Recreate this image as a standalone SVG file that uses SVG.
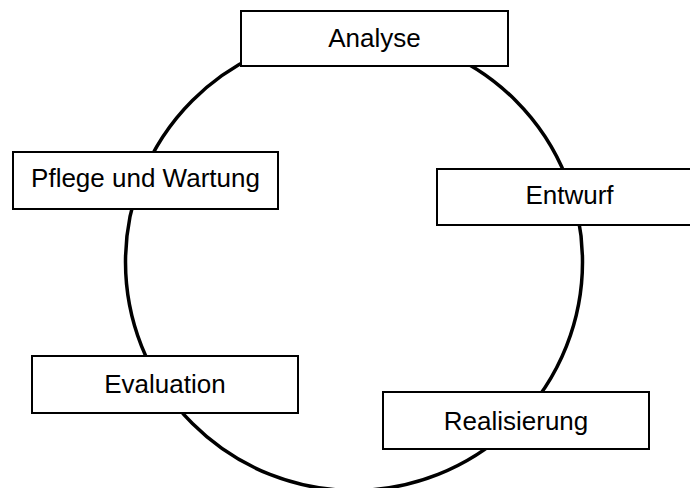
<svg xmlns="http://www.w3.org/2000/svg" width="690" height="488" viewBox="0 0 690 488">
  <style>
    .box { fill: #ffffff; stroke: #000000; stroke-width: 2; }
    .label { font-family: "Liberation Sans", Arial, sans-serif; font-size: 26px; fill: #000000; text-anchor: middle; }
    .cycle { fill: none; stroke: #000000; stroke-width: 3.5; }
  </style>
  <rect width="690" height="488" fill="#ffffff"/>
  <!-- the cycle connecting the phases -->
  <g id="connectors">
    <circle class="cycle" cx="354" cy="262" r="228.5"/>
  </g>
  <g id="analyse">
    <rect class="box" x="241" y="11" width="267" height="55"/>
    <text class="label" x="374.5" y="47">Analyse</text>
  </g>
  <g id="entwurf">
    <rect class="box" x="437" y="169" width="265" height="56"/>
    <text class="label" x="569.5" y="204">Entwurf</text>
  </g>
  <g id="realisierung">
    <rect class="box" x="383" y="392" width="266" height="57"/>
    <text class="label" x="516" y="430">Realisierung</text>
  </g>
  <g id="evaluation">
    <rect class="box" x="32" y="356" width="266" height="57"/>
    <text class="label" x="165" y="393">Evaluation</text>
  </g>
  <g id="pflege">
    <rect class="box" x="13" y="152" width="265" height="57"/>
    <text class="label" x="145.5" y="187">Pflege und Wartung</text>
  </g>
</svg>
